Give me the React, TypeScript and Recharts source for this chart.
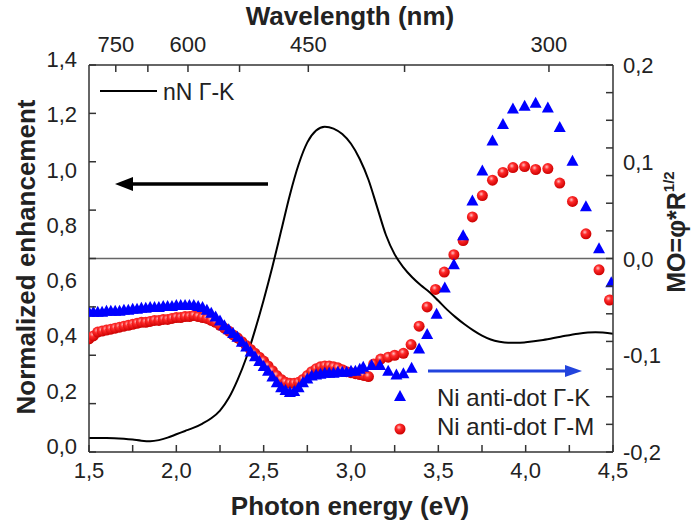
import React from 'react';
import { ComposedChart, Line, Scatter, XAxis, YAxis, ReferenceLine } from 'recharts';

// nN Γ-K, left axis (normalized enhancement)
const nnEnergy = [
  1.5, 1.6, 1.7, 1.75, 1.8, 1.85, 1.9, 1.95, 2.0, 2.05, 2.1, 2.15, 2.2, 2.25, 2.3, 2.35, 2.4, 2.45,
  2.5, 2.55, 2.6, 2.65, 2.7, 2.75, 2.8, 2.85, 2.9, 2.95, 3.0, 3.05, 3.1, 3.15, 3.2, 3.25, 3.3, 3.35,
  3.4, 3.45, 3.5, 3.55, 3.6, 3.65, 3.7, 3.75, 3.8, 3.85, 3.9, 3.95, 4.0, 4.1, 4.2, 4.3, 4.4, 4.5,
];
const nnValue = [
  0.051, 0.051, 0.048, 0.045, 0.041, 0.039, 0.043, 0.052, 0.064, 0.076, 0.088, 0.103, 0.122, 0.15,
  0.195, 0.26, 0.34, 0.44, 0.55, 0.67, 0.8, 0.93, 1.04, 1.12, 1.163, 1.177, 1.17, 1.15, 1.115, 1.06,
  0.985, 0.885, 0.785, 0.715, 0.668, 0.632, 0.603, 0.578, 0.547, 0.515, 0.487, 0.462, 0.44, 0.421,
  0.407, 0.399, 0.395, 0.395, 0.397, 0.405, 0.417, 0.428, 0.433, 0.428,
];

// Ni anti-dot Γ-K, right axis (MO)
const gkEnergy = [
  1.5, 1.525, 1.55, 1.575, 1.6, 1.625, 1.65, 1.675, 1.7, 1.725, 1.75, 1.775, 1.8, 1.825, 1.85, 1.875,
  1.9, 1.925, 1.95, 1.975, 2.0, 2.025, 2.05, 2.075, 2.1, 2.125, 2.15, 2.175, 2.2, 2.225, 2.25, 2.275,
  2.3, 2.325, 2.35, 2.375, 2.4, 2.425, 2.45, 2.475, 2.5, 2.525, 2.55, 2.575, 2.6, 2.625, 2.65, 2.675,
  2.7, 2.725, 2.75, 2.775, 2.8, 2.825, 2.85, 2.875, 2.9, 2.925, 2.95, 2.975, 3.0, 3.025, 3.05,
  3.07, 3.118, 3.166, 3.213, 3.26, 3.3, 3.347, 3.39, 3.436, 3.49, 3.537, 3.589, 3.642, 3.695, 3.752,
  3.81, 3.87, 3.927, 3.994, 4.057, 4.127, 4.195, 4.268, 4.345, 4.42, 4.49,
];
const gkMO = [
  -0.055, -0.055, -0.055, -0.055, -0.054, -0.054, -0.054, -0.054, -0.053, -0.053, -0.052, -0.052,
  -0.051, -0.051, -0.05, -0.05, -0.05, -0.049, -0.049, -0.049, -0.048, -0.048, -0.048, -0.048, -0.048,
  -0.049, -0.05, -0.053, -0.056, -0.06, -0.064, -0.069, -0.073, -0.077, -0.081, -0.086, -0.091, -0.096,
  -0.101, -0.106, -0.111, -0.116, -0.122, -0.128, -0.133, -0.136, -0.138, -0.137, -0.133, -0.128,
  -0.124, -0.121, -0.12, -0.119, -0.118, -0.118, -0.118, -0.117, -0.117, -0.117, -0.116, -0.116,
  -0.114, -0.112, -0.11, -0.11, -0.116, -0.12, -0.1185, -0.113, -0.093, -0.078, -0.057, -0.03, -0.006,
  0.024, 0.06, 0.091, 0.122, 0.139, 0.155, 0.158, 0.161, 0.156, 0.136, 0.101, 0.054, 0.0107, -0.0245,
];

// Ni anti-dot Γ-M, right axis (MO)
const gmEnergy = [
  1.5, 1.525, 1.55, 1.575, 1.6, 1.625, 1.65, 1.675, 1.7, 1.725, 1.75, 1.775, 1.8, 1.825, 1.85, 1.875,
  1.9, 1.925, 1.95, 1.975, 2.0, 2.025, 2.05, 2.075, 2.1, 2.125, 2.15, 2.175, 2.2, 2.225, 2.25, 2.275,
  2.3, 2.325, 2.35, 2.375, 2.4, 2.425, 2.45, 2.475, 2.5, 2.525, 2.55, 2.575, 2.6, 2.625, 2.65, 2.675,
  2.7, 2.725, 2.75, 2.775, 2.8, 2.825, 2.85, 2.875, 2.9, 2.925, 2.95, 2.975, 3.0, 3.025, 3.05, 3.075,
  3.1, 3.13, 3.17, 3.213, 3.25, 3.3, 3.344, 3.39, 3.436, 3.484, 3.534, 3.589, 3.642, 3.695, 3.752,
  3.81, 3.87, 3.927, 3.994, 4.057, 4.127, 4.195, 4.268, 4.345, 4.42, 4.48,
];
const gmMO = [
  -0.083, -0.08, -0.076, -0.075, -0.074, -0.073, -0.072, -0.071, -0.07, -0.069, -0.068, -0.067,
  -0.066, -0.066, -0.065, -0.064, -0.064, -0.063, -0.063, -0.062, -0.061, -0.061, -0.06, -0.06, -0.059,
  -0.06, -0.061, -0.062, -0.064, -0.066, -0.069, -0.072, -0.075, -0.079, -0.082, -0.086, -0.09, -0.094,
  -0.098, -0.102, -0.106, -0.111, -0.116, -0.121, -0.125, -0.128, -0.129, -0.129, -0.128, -0.125,
  -0.121, -0.117, -0.114, -0.112, -0.111, -0.111, -0.112, -0.113, -0.115, -0.117, -0.118, -0.119,
  -0.12, -0.121, -0.122, -0.109, -0.104, -0.102, -0.1, -0.098, -0.089, -0.07, -0.05, -0.032, -0.014,
  0.004, 0.0186, 0.043, 0.065, 0.081, 0.089, 0.094, 0.095, 0.092, 0.093, 0.078, 0.059, 0.0255,
  -0.0117, -0.043,
];

// axis ticks
const energyTicks = [1.5, 1.75, 2.0, 2.25, 2.5, 2.75, 3.0, 3.25, 3.5, 3.75, 4.0, 4.25, 4.5];
const energyLabels = [1.5, 2.0, 2.5, 3.0, 3.5, 4.0, 4.5];
const wavelengthTicks = [750, 675, 600, 525, 450, 375, 300];
const wavelengthLabels = [750, 600, 450, 300];
const leftLabels = [0, 0.2, 0.4, 0.6, 0.8, 1.0, 1.2, 1.4];
const rightLabels = [-0.2, -0.1, 0, 0.1, 0.2];

const leftMarks = Array.from({ length: 9 }, (_, i) => (i * 1.4) / 8);
const rightMarks = Array.from({ length: 15 }, (_, i) => -0.2 + (i * 0.4) / 14);

const nnData = nnEnergy.map((e, i) => ({ e, v: nnValue[i] }));
const gkData = gkEnergy.map((e, i) => ({ e, m: gkMO[i] }));
const gmData = gmEnergy.map((e, i) => ({ e, m: gmMO[i] }));

const FONT = 'Liberation Sans, Arial, sans-serif';
const AXIS = '#333';
const has = (arr: number[], v: number) => arr.some((a) => Math.abs(a - v) < 1e-6);
const merge = (a: number[], b: number[]) =>
  [...a, ...b.filter((v) => !has(a, v))].sort((x, y) => x - y);
const comma = (v: number) => v.toFixed(1).replace('.', ',');

const BottomTick = ({ x, y, payload }: any) => (
  <g>
    <line x1={x} x2={x} y1={y} y2={y - 7} stroke={AXIS} strokeWidth={1.5} />
    {has(energyLabels, payload.value) && (
      <text x={x} y={y + 26} textAnchor="middle" fontSize={22} fontFamily={FONT} fill="#222">
        {comma(payload.value)}
      </text>
    )}
  </g>
);

const TopTick = ({ x, y, payload }: any) => {
  const nm = Math.round(1240 / payload.value);
  return (
    <g>
      <line x1={x} x2={x} y1={y} y2={y + 7} stroke={AXIS} strokeWidth={1.5} />
      {wavelengthLabels.includes(nm) && (
        <text x={x} y={y - 13} textAnchor="middle" fontSize={22} fontFamily={FONT} fill="#222">
          {nm}
        </text>
      )}
    </g>
  );
};

const LeftTick = ({ x, y, payload }: any) => (
  <g>
    {has(leftMarks, payload.value) && (
      <line x1={x} x2={x + 7} y1={y} y2={y} stroke={AXIS} strokeWidth={1.5} />
    )}
    {has(leftLabels, payload.value) && (
      <text x={x - 12} y={y + 2} textAnchor="end" fontSize={22} fontFamily={FONT} fill="#222">
        {comma(payload.value)}
      </text>
    )}
  </g>
);

const RightTick = ({ x, y, payload }: any) => (
  <g>
    {has(rightMarks, payload.value) && (
      <line x1={x} x2={x - 7} y1={y} y2={y} stroke={AXIS} strokeWidth={1.5} />
    )}
    {has(rightLabels, payload.value) && (
      <text x={x + 10} y={y + 8} textAnchor="start" fontSize={22} fontFamily={FONT} fill="#222">
        {comma(payload.value)}
      </text>
    )}
  </g>
);

const Triangle = ({ cx, cy }: any) => (
  <polygon points={`${cx},${cy - 6} ${cx + 6},${cy + 5} ${cx - 6},${cy + 5}`} fill="#0000ff" />
);

const Ball = ({ cx, cy }: any) => <circle cx={cx} cy={cy} r={5.5} fill="url(#redBall)" />;

export default function App() {
  return (
    <div style={{ position: 'relative', width: 693, height: 527 }}>
      <style>{'body{margin:0;background:#fff}'}</style>
      <ComposedChart width={693} height={527} margin={{ top: 25, right: 20, bottom: 35, left: 29 }}>
        <defs>
          <radialGradient id="redBall" cx="40%" cy="35%" r="65%">
            <stop offset="0%" stopColor="#ffc0c0" />
            <stop offset="35%" stopColor="#ff2a2a" />
            <stop offset="100%" stopColor="#cc0000" />
          </radialGradient>
        </defs>
        <XAxis
          xAxisId="bottom"
          dataKey="e"
          type="number"
          domain={[1.5, 4.5]}
          allowDataOverflow
          ticks={energyTicks}
          interval={0}
          tick={<BottomTick />}
          tickLine={false}
          tickSize={0}
          tickMargin={0}
          height={40}
          axisLine={{ stroke: AXIS, strokeWidth: 1.5 }}
        />
        <XAxis
          xAxisId="top"
          orientation="top"
          dataKey="e"
          type="number"
          domain={[1.5, 4.5]}
          allowDataOverflow
          ticks={wavelengthTicks.map((w) => 1240 / w)}
          interval={0}
          tick={<TopTick />}
          tickLine={false}
          tickSize={0}
          tickMargin={0}
          height={40}
          axisLine={{ stroke: AXIS, strokeWidth: 1.5 }}
        />
        <YAxis
          yAxisId="left"
          type="number"
          domain={[0, 1.4]}
          allowDataOverflow
          ticks={merge(leftLabels, leftMarks)}
          interval={0}
          tick={<LeftTick />}
          tickLine={false}
          tickSize={0}
          tickMargin={0}
          width={60}
          axisLine={{ stroke: AXIS, strokeWidth: 1.5 }}
        />
        <YAxis
          yAxisId="right"
          orientation="right"
          dataKey="m"
          type="number"
          domain={[-0.2, 0.2]}
          allowDataOverflow
          ticks={merge(rightLabels, rightMarks)}
          interval={0}
          tick={<RightTick />}
          tickLine={false}
          tickSize={0}
          tickMargin={0}
          width={60}
          axisLine={{ stroke: AXIS, strokeWidth: 1.5 }}
        />
        <ReferenceLine xAxisId="bottom" yAxisId="right" y={0} stroke="#666" strokeWidth={1.5} />
        <Scatter
          xAxisId="bottom"
          yAxisId="right"
          data={gmData}
          dataKey="m"
          shape={<Ball />}
          isAnimationActive={false}
        />
        <Scatter
          xAxisId="bottom"
          yAxisId="right"
          data={gkData}
          dataKey="m"
          shape={<Triangle />}
          isAnimationActive={false}
        />
        <Line
          xAxisId="bottom"
          yAxisId="left"
          data={nnData}
          dataKey="v"
          type="monotone"
          stroke="#000"
          strokeWidth={2}
          dot={false}
          isAnimationActive={false}
        />
      </ComposedChart>
      <svg
        width={693}
        height={527}
        style={{ position: 'absolute', left: 0, top: 0, pointerEvents: 'none' }}
        fontFamily={FONT}
      >
        <text x={350} y={25} textAnchor="middle" fontSize={26} fontWeight="bold" fill="#222">
          Wavelength (nm)
        </text>
        <text x={350} y={515} textAnchor="middle" fontSize={26} fontWeight="bold" fill="#222">
          Photon energy (eV)
        </text>
        <text
          transform="translate(35,257) rotate(-90)"
          textAnchor="middle"
          fontSize={26}
          fontWeight="bold"
          fill="#222"
        >
          Normalized enhancement
        </text>
        <text
          transform="translate(685,232) rotate(-90)"
          textAnchor="middle"
          fontSize={25}
          fontWeight="bold"
          fill="#222"
        >
          MO=φ*R
          <tspan fontSize={15} dy={-11}>
            1/2
          </tspan>
        </text>

        <line x1={100} x2={157} y1={91} y2={91} stroke="#000" strokeWidth={2} />
        <text x={163} y={100} fontSize={23} fill="#222">
          nN Γ-K
        </text>

        <polygon points="400,390 406,401 394,401" fill="#0000ff" />
        <text x={437} y={406} fontSize={24} fill="#222">
          Ni anti-dot Γ-K
        </text>
        <circle cx={400} cy={429} r={5.5} fill="url(#redBall)" />
        <text x={437} y={435} fontSize={24} fill="#222">
          Ni anti-dot Γ-M
        </text>

        <line x1={268} x2={128} y1={184} y2={184} stroke="#000" strokeWidth={3.5} />
        <polygon points="115,184 133,177 133,191" fill="#000" />
        <line x1={428} x2={570} y1={371} y2={371} stroke="#2244dd" strokeWidth={3} />
        <polygon points="582,371 565,365 565,377" fill="#2244dd" />
      </svg>
    </div>
  );
}
